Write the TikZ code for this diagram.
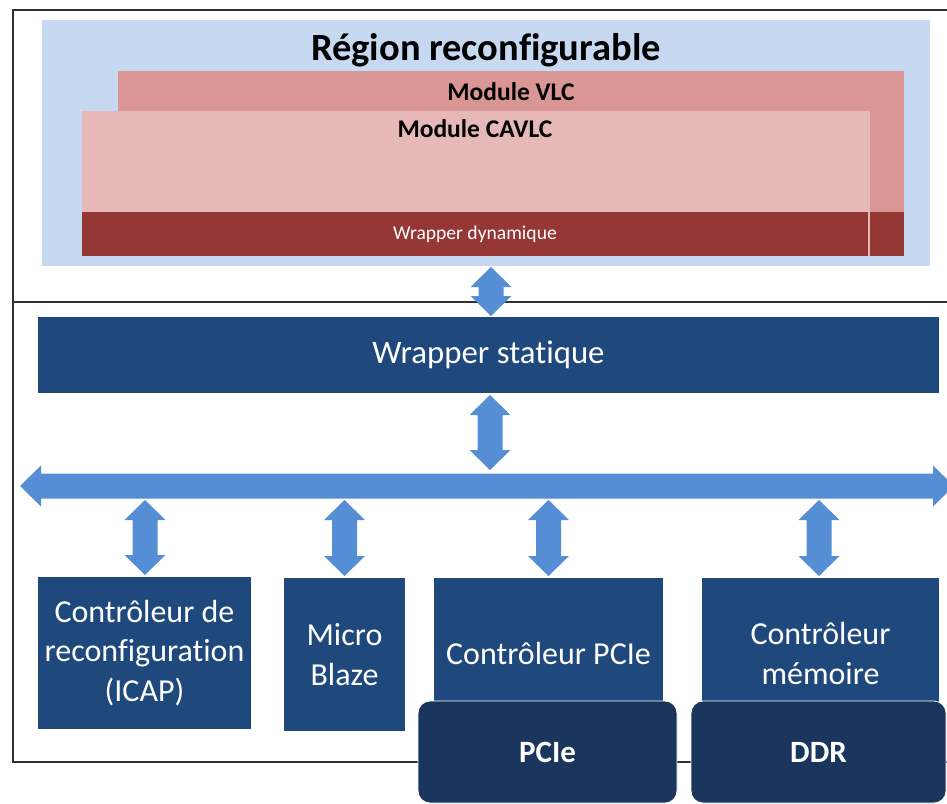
\documentclass[tikz,border=0pt]{standalone}
\usepackage{fontspec}
\setmainfont{Carlito}[Ligatures=NoCommon]
\usetikzlibrary{calc}
\definecolor{regionblue}{HTML}{C6D9F1}
\definecolor{vlcred}{HTML}{D99694}
\definecolor{cavlcpink}{HTML}{E6B9B8}
\definecolor{wrapred}{HTML}{953735}
\definecolor{boxblue}{HTML}{1F497D}
\definecolor{darkbox}{HTML}{1A365D}
\definecolor{arrowblue}{HTML}{558ED5}
\definecolor{framegray}{HTML}{303030}
% vertical double arrow between two tip points (same x)
\newcommand\dblV[2]{%
  \fill[arrowblue] let \p1=(#1), \p2=(#2) in
    (\x1,\y1) -- (\x1+20.5pt,\y1-20pt) -- (\x1+12.5pt,\y1-20pt) -- (\x1+12.5pt,\y2+20pt)
    -- (\x1+20.5pt,\y2+20pt) -- (\x1,\y2) -- (\x1-20.5pt,\y2+20pt) -- (\x1-12.5pt,\y2+20pt)
    -- (\x1-12.5pt,\y1-20pt) -- (\x1-20.5pt,\y1-20pt) -- cycle;}
% horizontal double arrow between two tip points (same y)
\newcommand\dblH[2]{%
  \fill[arrowblue] let \p1=(#1), \p2=(#2) in
    (\x1,\y1) -- (\x1+21pt,\y1+20.5pt) -- (\x1+21pt,\y1+12.5pt) -- (\x2-21pt,\y1+12.5pt)
    -- (\x2-21pt,\y1+20.5pt) -- (\x2,\y1) -- (\x2-21pt,\y1-20.5pt) -- (\x2-21pt,\y1-12.5pt)
    -- (\x1+21pt,\y1-12.5pt) -- (\x1+21pt,\y1-20.5pt) -- cycle;}
\begin{document}
\begin{tikzpicture}[x=1pt,y=-1pt,
  fillrect/.style={rectangle, inner sep=0pt, outer sep=0pt, anchor=north west},
  bluebox/.style={fillrect, fill=boxblue, text=white, align=center,
    font=\fontsize{32}{39.5}\selectfont},
  darkrbox/.style={fillrect, fill=darkbox, draw=white, line width=0.8pt,
    rounded corners=12pt, text=white, font=\bfseries\fontsize{31}{37}\selectfont},
  modtitle/.style={anchor=base, inner sep=0pt, font=\bfseries\fontsize{25.5}{30}\selectfont},
  frameline/.style={draw=framegray, line width=1.3pt}
]
\useasboundingbox (0,0) rectangle (947,803);

% outer frame
\draw[frameline] (965,10) -- (13,10) -- (13,762) -- (965,762);
\draw[frameline] (13,302) -- (965,302);

% reconfigurable region
\node[fillrect, fill=regionblue, minimum width=888pt, minimum height=246pt] (region) at (42,20) {};
\node[anchor=base, inner sep=0pt, font=\bfseries\fontsize{38.5}{45}\selectfont] (title) at (486,60) {Région reconfigurable};

\node[fillrect, fill=vlcred, minimum width=786pt, minimum height=185pt] (vlc) at (118,71) {};
\node[fillrect, fill=wrapred, minimum width=786pt, minimum height=44pt] (vlcwrap) at (118,212) {};
\node[modtitle] (vlcT) at (511,100) {Module VLC};

\node[fillrect, fill=cavlcpink, minimum width=788pt, minimum height=145pt] (cavlc) at (82,111) {};
\node[fillrect, fill=wrapred, minimum width=786pt, minimum height=44pt, text=white,
  font=\fontsize{19.6}{23}\selectfont] (dynwrap) at (82,212) {Wrapper dynamique};
\node[modtitle] (cavlcT) at (475,137) {Module CAVLC};

% static wrapper
\node[bluebox, minimum width=901pt, minimum height=76pt, font=\fontsize{32.8}{38}\selectfont] (ws) at (38,317) {Wrapper statique};

% bus
\coordinate (busL) at (20,486);
\coordinate (busR) at (954,486);
\dblH{busL}{busR}

% bottom boxes
\node[bluebox, minimum width=213pt, minimum height=152pt] (icap) at (38,577) {Contrôleur de\\reconfiguration\\(ICAP)};
\node[bluebox, minimum width=121pt, minimum height=153pt] (mb) at (284,578) {Micro\\Blaze};
\node[bluebox, minimum width=229pt, minimum height=151pt] (pcictl) at (434,578) {Contrôleur PCIe};
\node[bluebox, minimum width=237pt, minimum height=151pt] (memctl) at (702,578) {Contrôleur\\mémoire};

\node[darkrbox, minimum width=259pt, minimum height=102pt] (pcie) at (418,701) {PCIe};
\node[darkrbox, minimum width=255pt, minimum height=102pt] (ddr) at (691,701) {DDR};

% double arrows
\dblV{$(region.south)+(5,1)$}{$(ws.north)+(2.5,-1)$}
\dblV{$(ws.south)+(1.5,2)$}{$(ws.south |- busL)+(1.5,-16)$}
\dblV{$(icap.north |- busL)+(0.5,14)$}{$(icap.north)+(0.5,-2)$}
\dblV{$(mb.north |- busL)+(0,14)$}{$(mb.north)+(0,-2)$}
\dblV{$(pcictl.north |- busL)+(0,14)$}{$(pcictl.north)+(0,-2)$}
\dblV{$(memctl.north |- busL)+(-1.5,14)$}{$(memctl.north)+(-1.5,-2)$}
\end{tikzpicture}
\end{document}
